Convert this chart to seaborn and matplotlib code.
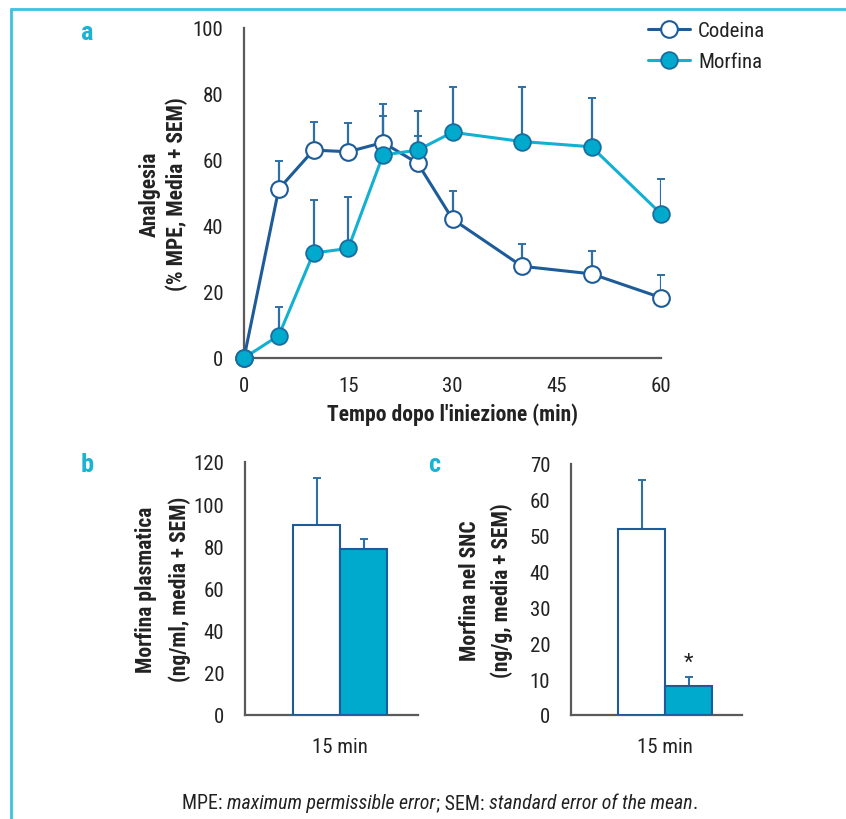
import matplotlib
matplotlib.use("Agg")
import matplotlib.pyplot as plt
from matplotlib import font_manager
from matplotlib.lines import Line2D
import seaborn as sns
import pandas as pd
import numpy as np

# ---------------- data ----------------
time_min = [0, 5, 10, 15, 20, 25, 30, 40, 50, 60]
codeina_mean = [0, 51.2, 63.0, 62.5, 65.3, 59.0, 42.1, 27.8, 25.5, 18.3]
codeina_sem = [0, 8.6, 8.4, 8.6, 11.7, 8.4, 8.6, 6.7, 6.8, 6.9]
morfina_mean = [0, 6.8, 31.8, 33.2, 61.5, 63.0, 68.4, 65.6, 64.0, 43.7]
morfina_sem = [0, 8.6, 16.2, 15.7, 11.9, 11.9, 13.6, 16.4, 14.8, 10.5]

groups = ["Codeina", "Morfina"]
bar_category = ["15 min"]
plasma_mean = [90.0, 78.5]
plasma_sem = [22.3, 5.0]
snc_mean = [51.8, 8.0]
snc_sem = [13.6, 2.7]

x_ticks = [0, 15, 30, 45, 60]
y_ticks_a = [0, 20, 40, 60, 80, 100]
y_ticks_b = [0, 20, 40, 60, 80, 100, 120]
y_ticks_c = [0, 10, 20, 30, 40, 50, 60, 70]

# ---------------- style ----------------
sns.set_theme(style="white")
entries = font_manager.fontManager.ttflist
names = {f.name for f in entries}
fam = "Liberation Sans"
for cand in ["Liberation Sans Narrow", "Roboto Condensed", "Open Sans Condensed", "Arial Narrow"]:
    if cand in names:
        fam = cand
        break
plt.rcParams["font.family"] = [fam, "DejaVu Sans"]

DARK = "#1d5c98"
CYAN = "#12b0d2"
CYAN_FILL = "#00aacc"
ERR = "#2f6fa8"
SPINE = "#5a5a5a"
TXT = "#222222"
LETTER = "#1bb3d4"

FS_T = 15      # tick labels
FS_L = 15.5    # axis labels

W, H = 846, 820
fig = plt.figure(figsize=(W / 100, H / 100), dpi=100)


def rect(l, r, t, b):
    return [l / W, 1 - b / H, (r - l) / W, (b - t) / H]


# frame lines
fig.add_artist(Line2D([11 / W, 11 / W], [0, 1 - 10 / H], color="#3cc3e0", lw=2))
fig.add_artist(Line2D([11 / W, 1], [1 - 10 / H, 1 - 10 / H], color="#3cc3e0", lw=2))

# ---------------- panel a ----------------
ax = fig.add_axes(rect(244, 661, 29, 359))
df = pd.DataFrame({
    "t": time_min * 2,
    "v": codeina_mean + morfina_mean,
    "g": ["Codeina"] * len(time_min) + ["Morfina"] * len(time_min),
})
for mean, sem in [(codeina_mean, codeina_sem), (morfina_mean, morfina_sem)]:
    t_e = [t for t, s in zip(time_min, sem) if s > 0]
    m_e = [m for m, s in zip(mean, sem) if s > 0]
    s_e = [s for s in sem if s > 0]
    ax.errorbar(t_e, m_e, yerr=[np.zeros(len(s_e)), s_e], fmt="none",
                ecolor=ERR, elinewidth=1.6, capsize=3, capthick=1.4, zorder=2)

sns.lineplot(data=df, x="t", y="v", hue="g", palette={"Codeina": DARK, "Morfina": CYAN},
             linewidth=2.2, ax=ax, legend=False, zorder=3, sort=False)
ax.plot(time_min, codeina_mean, ls="none", marker="o", ms=12, mfc="white", mec=DARK,
        mew=1.5, zorder=4, clip_on=False)
ax.plot(time_min, morfina_mean, ls="none", marker="o", ms=12, mfc=CYAN_FILL, mec="#1a6c9e",
        mew=1.3, zorder=5, clip_on=False)
for ln in ax.lines:
    ln.set_clip_on(False)

ax.set_xlim(0, 60)
ax.set_ylim(0, 100)
ax.set_xticks(x_ticks)
ax.set_yticks(y_ticks_a)
ax.tick_params(axis="both", length=0, labelsize=FS_T, colors=TXT)
ax.tick_params(axis="y", pad=15)
ax.tick_params(axis="x", pad=13)
for s in ["top", "right"]:
    ax.spines[s].set_visible(False)
for s in ["left", "bottom"]:
    ax.spines[s].set_color(SPINE)
    ax.spines[s].set_linewidth(1.6)
ax.set_xlabel("Tempo dopo l'iniezione (min)", fontsize=FS_L, fontweight="bold", color=TXT, labelpad=5)
ax.set_ylabel("Analgesia\n(% MPE, Media + SEM)", fontsize=FS_L, fontweight="bold", color=TXT,
              labelpad=3, linespacing=1.3)

handles = [
    Line2D([], [], color=DARK, lw=2.2, marker="o", ms=12, mfc="white", mec=DARK, mew=1.5),
    Line2D([], [], color=CYAN, lw=2.2, marker="o", ms=12, mfc=CYAN_FILL, mec="#1a6c9e", mew=1.3),
]
leg = fig.legend(handles, groups, loc="upper left", bbox_to_anchor=(648 / W, 1 - 22 / H),
                 frameon=False, fontsize=FS_T, handlelength=2.0, handletextpad=0.4,
                 labelspacing=0.6, borderaxespad=0, borderpad=0)
for t in leg.get_texts():
    t.set_color(TXT)

for (xx, yy, s) in [(87, 33, "a"), (87, 465, "b"), (434, 465, "c")]:
    fig.text(xx / W, 1 - yy / H, s, fontsize=19, fontweight="bold", color=LETTER,
             ha="center", va="center")


# ---------------- bar panels ----------------
def bar_panel(axb, means, sems, yticks, ylim, xlim, ylabel, lpad, lsp):
    d = pd.DataFrame({"cat": bar_category * 2, "g": groups, "v": means})
    sns.barplot(data=d, x="cat", y="v", hue="g", palette={"Codeina": "white", "Morfina": CYAN_FILL},
                width=0.8, gap=0, ax=axb, legend=False, errorbar=None, saturation=1,
                edgecolor=DARK, linewidth=1.5, zorder=3)
    xs = [p.get_x() + p.get_width() / 2 for p in axb.patches[:2]]
    axb.errorbar(xs, means, yerr=[np.zeros(2), sems], fmt="none", ecolor=ERR,
                 elinewidth=1.5, capsize=3, capthick=1.4, zorder=2)
    axb.set_ylim(*ylim)
    axb.set_xlim(*xlim)
    axb.set_yticks(yticks)
    axb.tick_params(axis="both", length=0, labelsize=FS_T, colors=TXT)
    axb.tick_params(axis="y", pad=15)
    axb.tick_params(axis="x", pad=16)
    for s in ["top", "right"]:
        axb.spines[s].set_visible(False)
    for s in ["left", "bottom"]:
        axb.spines[s].set_color(SPINE)
        axb.spines[s].set_linewidth(1.6)
    axb.set_xlabel("")
    axb.set_ylabel(ylabel, fontsize=FS_L, fontweight="bold", color=TXT, labelpad=lpad,
                   linespacing=lsp)
    return xs


axb = fig.add_axes(rect(245, 418, 463, 716))
bar_panel(axb, plasma_mean, plasma_sem, y_ticks_b, (0, 120), (-0.809, 0.664),
          "Morfina plasmatica\n(ng/ml, media + SEM)", 2, 1.6)

axc = fig.add_axes(rect(571, 742, 465, 716))
xs_c = bar_panel(axc, snc_mean, snc_sem, y_ticks_c, (0, 70), (-0.80, 0.655),
                 "Morfina nel SNC\n(ng/g, media + SEM)", 12, 1.5)
axc.text(xs_c[1], snc_mean[1] + snc_sem[1] + 1.2, "*", ha="center", va="bottom",
         fontsize=16, color=TXT)

# caption with mixed upright / italic pieces
pieces = [("MPE: ", "normal"), ("maximum permissible error", "italic"), ("; SEM: ", "normal"),
          ("standard error of the mean", "italic"), (".", "normal")]
renderer = fig.canvas.get_renderer()
tmp = []
total = 0
for s, st in pieces:
    t = fig.text(0, 0, s, fontsize=14.3, style=st, color=TXT)
    bb = t.get_window_extent(renderer)
    tmp.append((t, bb.width))
    total += bb.width
x0 = 440 - total / 2
for t, w in tmp:
    t.set_position((x0 / W, 1 - 809 / H))
    x0 += w

fig.savefig("out.png", dpi=100)
